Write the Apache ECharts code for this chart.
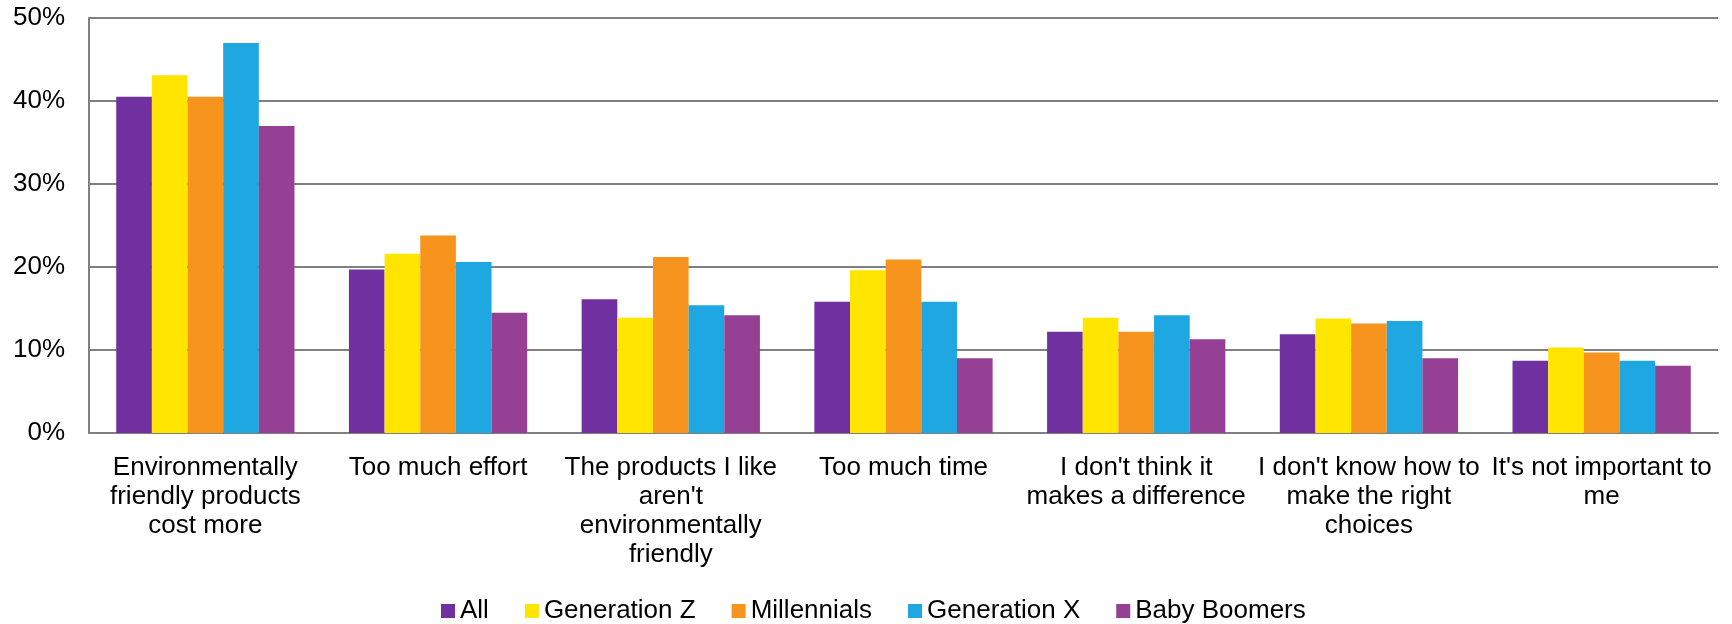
<!DOCTYPE html>
<html>
<head>
<meta charset="utf-8">
<script src="https://cdn.jsdelivr.net/npm/echarts@6/dist/echarts.min.js"></script>
<style>
  html, body { margin: 0; padding: 0; background: #ffffff; }
  #chart { width: 1732px; height: 624px; }
</style>
</head>
<body>
<div id="chart"></div>
<script>
// Reasons for not buying environmentally friendly products, by generation (%)
const categories = [
  'Environmentally\nfriendly products\ncost more',
  'Too much effort',
  "The products I like\naren't\nenvironmentally\nfriendly",
  'Too much time',
  "I don't think it\nmakes a difference",
  "I don't know how to\nmake the right\nchoices",
  "It's not important to\nme"
];
const seriesNames = ['All', 'Generation Z', 'Millennials', 'Generation X', 'Baby Boomers'];
const allValues        = [40.5, 19.7, 16.1, 15.8, 12.2, 11.9, 8.7];
const genZValues       = [43.1, 21.6, 13.9, 19.6, 13.9, 13.8, 10.3];
const millennialValues = [40.5, 23.8, 21.2, 20.9, 12.2, 13.2, 9.7];
const genXValues       = [47.0, 20.6, 15.4, 15.8, 14.2, 13.5, 8.7];
const boomerValues     = [37.0, 14.5, 14.2, 9.0, 11.3, 9.0, 8.1];
const yTicks = { min: 0, max: 50, interval: 10 };

const colors = ['#7030A0', '#FFE500', '#F7941E', '#1EA7E1', '#953F95'];
const valueSets = [allValues, genZValues, millennialValues, genXValues, boomerValues];
const font = "'Liberation Sans', Arial, sans-serif";

const chart = echarts.init(document.getElementById('chart'), null, { renderer: 'canvas' });
chart.setOption({
  animation: false,
  backgroundColor: '#ffffff',
  color: colors,
  grid: { left: 89, right: 14, top: 18, bottom: 191, containLabel: false },
  legend: {
    data: seriesNames,
    left: 441,
    top: 598,
    padding: 0,
    icon: 'rect',
    itemWidth: 14,
    itemHeight: 14,
    itemGap: 36,
    textStyle: { fontFamily: font, fontSize: 26, color: '#000000' }
  },
  xAxis: {
    type: 'category',
    data: categories,
    axisLine: { lineStyle: { color: '#808080', width: 2 } },
    axisTick: { show: false },
    axisLabel: {
      interval: 0,
      hideOverlap: false,
      margin: 20,
      fontFamily: font,
      fontSize: 26,
      lineHeight: 29,
      color: '#000000',
      align: 'center'
    }
  },
  yAxis: {
    type: 'value',
    min: yTicks.min,
    max: yTicks.max,
    interval: yTicks.interval,
    axisLine: { show: true, lineStyle: { color: '#808080', width: 2 } },
    axisTick: { show: false },
    splitLine: { lineStyle: { color: '#808080', width: 2 } },
    axisLabel: {
      margin: 24,
      fontFamily: font,
      fontSize: 26,
      color: '#000000',
      formatter: v => v + '%'
    }
  },
  series: seriesNames.map((name, i) => ({
    name,
    type: 'bar',
    data: valueSets[i],
    barGap: '0%',
    barCategoryGap: '23.4%',
    itemStyle: { color: colors[i] }
  }))
});
</script>
</body>
</html>
